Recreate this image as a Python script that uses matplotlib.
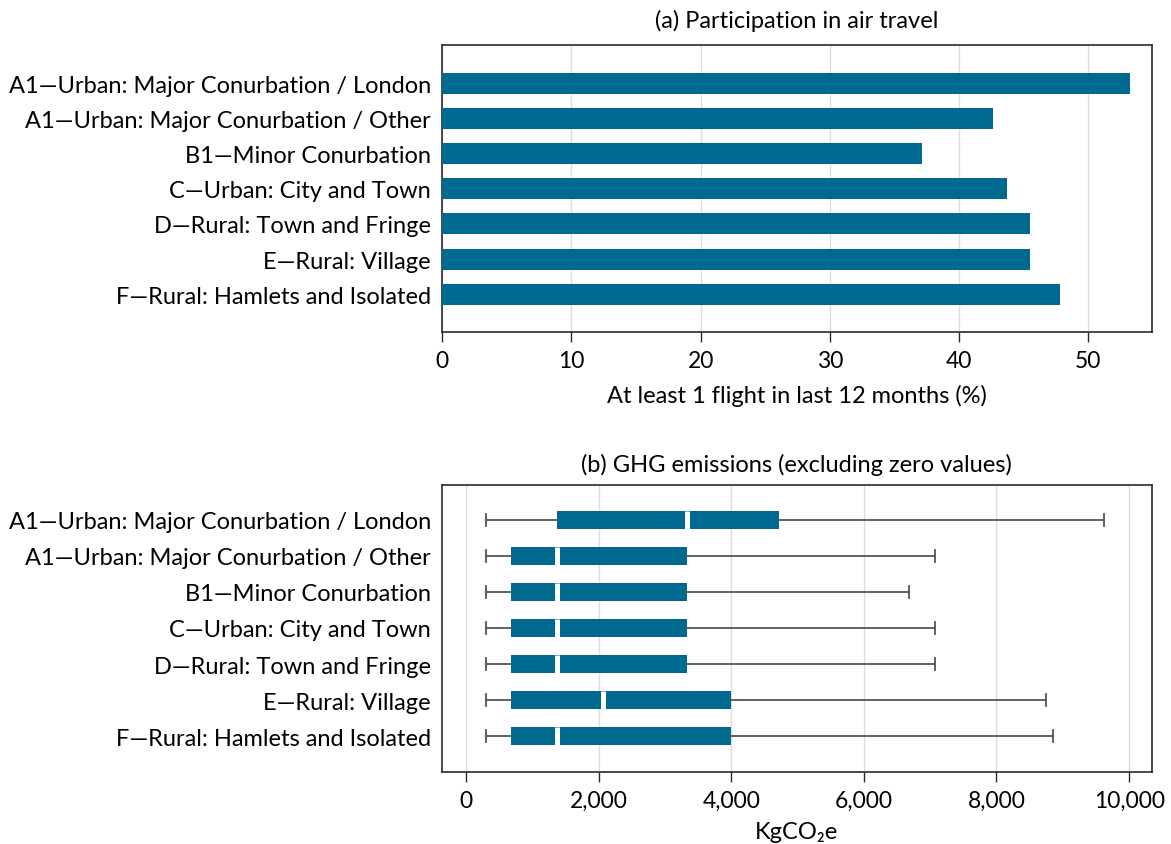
import numpy as np
import matplotlib.pyplot as plt

plt.rcParams['font.family'] = ['Lato', 'DejaVu Sans']

categories = [
    'A1\u2014Urban: Major Conurbation / London',
    'A1\u2014Urban: Major Conurbation / Other',
    'B1\u2014Minor Conurbation',
    'C\u2014Urban: City and Town',
    'D\u2014Rural: Town and Fringe',
    'E\u2014Rural: Village',
    'F\u2014Rural: Hamlets and Isolated',
]

# share flying at least once in last 12 months (%)
flights_pct = [53.2, 42.6, 37.1, 43.7, 45.5, 45.5, 47.8]

# GHG emission box stats, kgCO2e
whislo = [310, 310, 310, 310, 310, 310, 310]
q1 = [1370, 680, 680, 680, 680, 680, 680]
med = [3340, 1370, 1370, 1370, 1370, 2060, 1370]
q3 = [4720, 3340, 3340, 3340, 3340, 4000, 4000]
whishi = [9620, 7070, 6680, 7070, 7070, 8750, 8850]

blue = '#00698f'
spine_col = '#2a2a2a'
fs = 17

fig = plt.figure(figsize=(11.71, 8.45), dpi=100)
ax1 = fig.add_axes([0.3775, 0.606, 0.606, 0.339])
ax2 = fig.add_axes([0.3775, 0.085, 0.606, 0.340])

ypos = np.arange(len(categories))

# (a) bars
ax1.barh(ypos, flights_pct, height=0.6, color=blue, zorder=3)
ax1.set_xlim(0, 54.9)
ax1.set_ylim(len(categories) - 1 + 1.07, -1.07)
ax1.set_xticks(np.arange(0, 51, 10))
ax1.set_xlabel('At least 1 flight in last 12 months (%)', fontsize=fs, labelpad=9)
ax1.set_title('(a) Participation in air travel', fontsize=fs, pad=13)

# (b) box plots
stats = []
for i in range(len(categories)):
    stats.append(dict(whislo=whislo[i], q1=q1[i], med=med[i], q3=q3[i], whishi=whishi[i], fliers=[]))
ax2.bxp(stats, positions=ypos, orientation='horizontal', widths=0.5, patch_artist=True,
        showfliers=False,
        boxprops=dict(facecolor=blue, edgecolor='none', linewidth=0),
        medianprops=dict(color='white', linewidth=3.6, solid_capstyle='butt'),
        whiskerprops=dict(color='#555555', linewidth=1.3),
        capprops=dict(color='#555555', linewidth=1.3),
        capwidths=0.33, zorder=3)
ax2.set_xlim(-360, 10340)
ax2.set_ylim(len(categories) - 1 + 1.0, -0.97)
ax2.set_xticks(np.arange(0, 10001, 2000))
ax2.set_xticklabels(['{:,}'.format(v) for v in range(0, 10001, 2000)])
ax2.set_xlabel('KgCO\u2082e', fontsize=fs, labelpad=7)
ax2.set_title('(b) GHG emissions (excluding zero values)', fontsize=fs, pad=10)

for ax in (ax1, ax2):
    ax.set_yticks(ypos)
    ax.set_yticklabels(categories)
    ax.tick_params(axis='y', length=0, labelsize=fs, pad=8)
    ax.tick_params(axis='x', length=7, width=1, labelsize=16.5, color=spine_col, pad=6)
    ax.grid(True, axis='x', color='#dddddd', linewidth=1, zorder=0)
    ax.set_axisbelow(True)
    for s in ax.spines.values():
        s.set_color(spine_col)
        s.set_linewidth(1.2)

fig.savefig('out.png', dpi=100)
